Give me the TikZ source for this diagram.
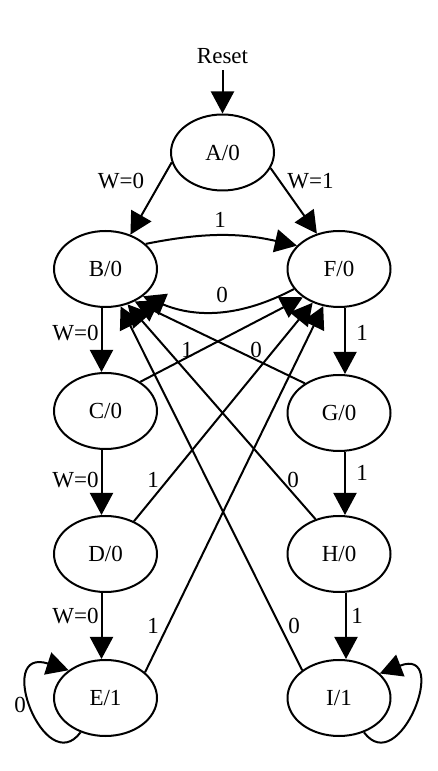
\documentclass[tikz,border=0pt]{standalone}
\usepackage{fontspec}
\setmainfont{Liberation Serif}
\usetikzlibrary{arrows.meta,shapes.geometric}
\begin{document}
\begin{tikzpicture}[x=1pt,y=1pt,
  state/.style={ellipse,draw,line width=2pt,minimum width=103pt,minimum height=76pt,inner sep=0pt,font=\fontsize{23}{27}\selectfont},
  lbl/.style={inner sep=0pt,font=\fontsize{23}{27}\selectfont},
  edge/.style={line width=2pt,-{Triangle[length=22pt,width=23pt]}}]
\useasboundingbox (0,0) rectangle (437,771);
% states
\node[state] (a) at (222.5,618.5) {A/0};
\node[state] (b) at (105.5,502) {B/0};
\node[state] (f) at (339,502) {F/0};
\node[state] (c) at (105.5,360) {C/0};
\node[state] (g) at (339,358) {G/0};
\node[state] (d) at (105.5,217) {D/0};
\node[state] (h) at (339,217) {H/0};
\node[state] (e) at (105.5,73) {E/1};
\node[state] (i) at (339,73) {I/1};
\node[lbl] (reset) at (222.5,714.5) {Reset};
% edges
\draw[edge,shorten <=6pt] (reset.south) -- (a.north);
\draw[edge] (a.191) -- (b.54);
\draw[edge] (a.-18) -- (f.122);
\draw[edge] (b.32) to[bend left=12] (f.151);
\draw[edge] (f.204) to[bend left=25] (b.-36);
\draw[edge] ([xshift=-4pt]b.south) -- ([xshift=-4pt]c.north);
\draw[edge] ([xshift=-4pt]c.south) -- ([xshift=-4pt]d.north);
\draw[edge] ([xshift=-4pt]d.south) -- ([xshift=-4pt]e.north);
\draw[edge] ([xshift=6pt]f.south) -- ([xshift=6pt]g.north);
\draw[edge] ([xshift=6pt]g.south) -- ([xshift=6pt]h.north);
\draw[edge] ([xshift=7pt]h.south) -- ([xshift=7pt]i.north);
\draw[edge] (c.40) -- (f.218);
\draw[edge] (d.49) -- (f.232);
\draw[edge] (e.33) -- (f.247);
\draw[edge] (g.139) -- (b.-48);
\draw[edge] (h.124) -- (b.-58);
\draw[edge] (i.143) -- (b.-68);
% self loops
\draw[edge] (e.234) .. controls ([shift={(-60.5,-82)}]e.center) and ([shift={(-112,52)}]e.center) .. (e.143);
\draw[edge] (i.306) .. controls ([shift={(60.5,-82)}]i.center) and ([shift={(112,52)}]i.center) .. (i.31);
% labels
\node[lbl] (l1) at (121,590) {W=0};
\node[lbl] (l2) at (310.5,590) {W=1};
\node[lbl] (l3) at (220,551) {1};
\node[lbl] (l4) at (222,476) {0};
\node[lbl] (l5) at (75.5,438) {W=0};
\node[lbl] (l6) at (362,438) {1};
\node[lbl] (l7) at (187,421) {1};
\node[lbl] (l8) at (256,421) {0};
\node[lbl] (l9) at (75.5,291) {W=0};
\node[lbl] (l10) at (362,298) {1};
\node[lbl] (l11) at (153,291) {1};
\node[lbl] (l12) at (293,291) {0};
\node[lbl] (l13) at (75.5,155) {W=0};
\node[lbl] (l14) at (357,155) {1};
\node[lbl] (l15) at (153,145) {1};
\node[lbl] (l16) at (294,145) {0};
\node[lbl] (l17) at (20,66) {0};
\end{tikzpicture}
\end{document}
